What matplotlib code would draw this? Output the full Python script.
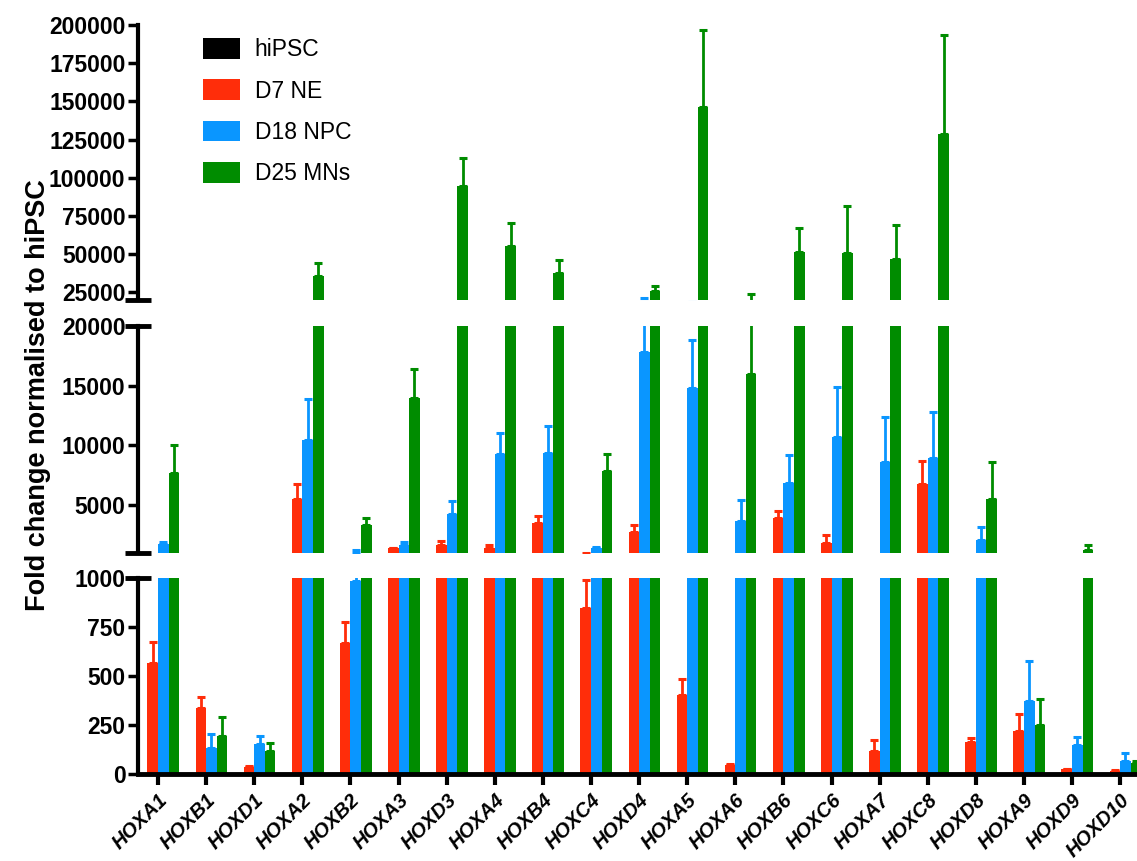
import numpy as np
import matplotlib
matplotlib.use("Agg")
import matplotlib.pyplot as plt
from matplotlib.patches import Patch

plt.rcParams['font.family'] = ['Liberation Sans', 'DejaVu Sans']

genes = ['HOXA1', 'HOXB1', 'HOXD1', 'HOXA2', 'HOXB2', 'HOXA3', 'HOXD3', 'HOXA4',
         'HOXB4', 'HOXC4', 'HOXD4', 'HOXA5', 'HOXA6', 'HOXB6', 'HOXC6', 'HOXA7',
         'HOXC8', 'HOXD8', 'HOXA9', 'HOXD9', 'HOXD10']

# fold change vs hiPSC (hiPSC itself = 1)
hipsc = [1] * 21
hipsc_err = [0] * 21

d7_ne = [565, 337, 34, 5510, 667, 1380, 1650, 1460, 3530, 849, 2720,
         403, 46, 3890, 1800, 117, 6770, 165, 221, 24, 15]
d7_ne_err = [107, 57, 5, 1230, 110, 60, 350, 250, 560, 140, 590,
             82, 5, 640, 700, 56, 1920, 20, 85, 3, 3]

d18_npc = [1750, 134, 151, 10450, 985, 1700, 4255, 9280, 9340, 1460, 17800,
           14835, 3700, 6900, 10730, 8640, 8920, 2070, 374, 148, 68]
d18_npc_err = [150, 70, 44, 3410, 245, 200, 1090, 1780, 2310, 80, 3700,
               3990, 1730, 2290, 4130, 3710, 3850, 1120, 203, 42, 37]

d25_mn = [7725, 194, 119, 35700, 3330, 13950, 94600, 55600, 37900, 7880, 25900,
          146500, 16000, 51600, 50600, 46700, 128500, 5510, 250, 1230, 55]
d25_mn_err = [2280, 95, 38, 8700, 640, 2450, 18200, 14600, 8300, 1370, 3500,
              50200, 8000, 15700, 31100, 22200, 65200, 3125, 133, 420, 10]

series = [
    ('hiPSC', hipsc, hipsc_err, '#000000'),
    ('D7 NE', d7_ne, d7_ne_err, '#FF2D0A'),
    ('D18 NPC', d18_npc, d18_npc_err, '#0A96FF'),
    ('D25 MNs', d25_mn, d25_mn_err, '#008C00'),
]

W, H = 1137, 861
fig = plt.figure(figsize=(W / 100, H / 100), dpi=100)

left = 138 / W
width = 1 - left
# (top px, bottom px, ylim, ticks, break ends)
segments = [
    (25, 300, (20000, 200000), np.arange(25000, 200001, 25000), [0]),
    (326, 553, (1000, 20000), [5000, 10000, 15000, 20000], [0, 1]),
    (578, 774, (0, 1000), [0, 250, 500, 750, 1000], [1]),
]

x = np.arange(len(genes))
bw = 0.22
offsets = [-1.5 * bw, -0.5 * bw, 0.5 * bw, 1.5 * bw]

axes = []
for top_px, bot_px, ylim, ticks, breaks in segments:
    ax = fig.add_axes([left, 1 - bot_px / H, width, (bot_px - top_px) / H])
    for (name, vals, errs, col), off in zip(series, offsets):
        vals = np.array(vals, dtype=float)
        errs = np.array(errs, dtype=float)
        ax.bar(x + off, vals, width=bw, color=col, linewidth=0, label=name)
        ax.errorbar(x + off, vals, yerr=[np.zeros_like(errs), errs], fmt='none',
                    ecolor=col, elinewidth=2, capsize=3, capthick=2.2)
    ax.set_ylim(*ylim)
    ax.set_xlim(-0.416, 20.35)
    ax.set_yticks(ticks)
    ax.set_yticklabels([str(t) for t in ticks])
    for s in ['top', 'right']:
        ax.spines[s].set_visible(False)
    ax.spines['left'].set_linewidth(3)
    ax.tick_params(axis='y', direction='out', length=7, width=2.5,
                   labelsize=16.5, pad=2)
    for lab in ax.get_yticklabels():
        lab.set_fontweight('bold')
    # break marks where the axis is cut
    for yy in breaks:
        ax.plot([-0.013, 0.013], [yy, yy], color='black', lw=3.5,
                transform=ax.transAxes, clip_on=False, solid_capstyle='butt')
    axes.append(ax)

for ax in axes[:2]:
    ax.spines['bottom'].set_visible(False)
    ax.set_xticks([])

axb = axes[2]
axb.spines['bottom'].set_linewidth(3.5)
axb.set_xticks(x)
axb.set_xticklabels(genes, rotation=45, ha='right', rotation_mode='anchor',
                    fontsize=14.5, fontweight='bold', fontstyle='italic')
axb.tick_params(axis='x', direction='out', length=8, width=3, pad=4)

fig.text(38 / W, 1 - 395 / H, 'Fold change normalised to hiPSC', rotation=90,
         ha='center', va='center', fontsize=19.5, fontweight='bold')

handles = [Patch(facecolor=c, edgecolor='none', label=n) for n, _, _, c in series]
fig.legend(handles=handles, loc='upper left', bbox_to_anchor=(203 / W, 1 - 38 / H),
           bbox_transform=fig.transFigure, frameon=False, fontsize=16.5,
           handlelength=1.6, handleheight=1.0, handletextpad=0.65,
           labelspacing=0.8, borderpad=0, borderaxespad=0)

fig.savefig('out.png', dpi=100)
